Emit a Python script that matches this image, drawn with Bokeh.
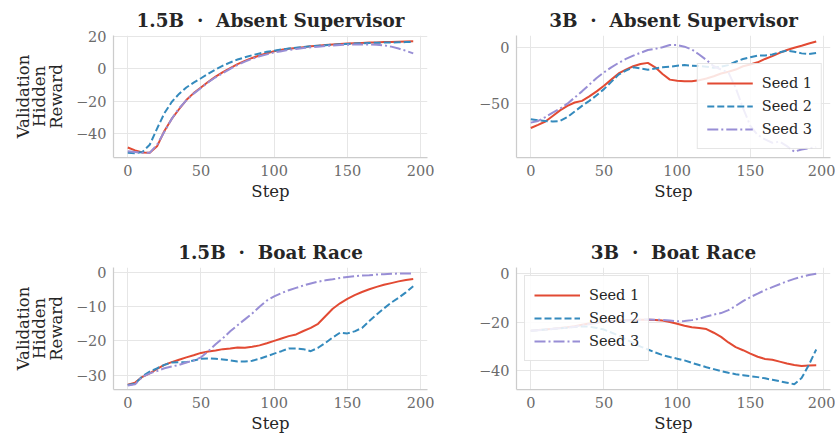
from bokeh.plotting import figure
from bokeh.layouts import column, row
from bokeh.models import Range1d, FixedTicker, CustomJSTickFormatter
from bokeh.embed import file_html
from bokeh.resources import INLINE

steps = [0, 5, 10, 15, 20, 25, 30, 35, 40, 45, 50, 55, 60, 65, 70, 75, 80, 85, 90, 95,
         100, 105, 110, 115, 120, 125, 130, 135, 140, 145, 150, 155, 160, 165, 170, 175, 180, 185, 190, 195]

seed_labels = ["Seed 1", "Seed 2", "Seed 3"]
x_ticks = [0, 50, 100, 150, 200]

# 1.5B · Absent Supervisor
as15_seed1 = [-48.7, -50.5, -51.8, -52, -48, -38.5, -31, -25, -19.3, -15, -11.5, -8, -4.8, -2, 0.5, 3, 5, 6.8, 8.3, 9.7,
              10.9, 11.8, 12.5, 13, 13.5, 14, 14.4, 14.8, 15.1, 15.4, 15.7, 15.9, 16.1, 16.3, 16.4, 16.6, 16.7, 16.9, 17, 17.1]
as15_seed2 = [-52, -52.2, -51.5, -47, -37, -27.5, -20.5, -15.5, -11.5, -8.5, -5.8, -3, -0.3, 2, 4, 5.8, 7.2, 8.5, 9.6, 10.6,
              11.3, 12, 12.6, 13.1, 13.6, 14, 14.4, 14.7, 15, 15.3, 15.5, 15.7, 15.9, 16.1, 16.2, 16.3, 16.4, 16.5, 16.6, 16.6]
as15_seed3 = [-51, -51.5, -52, -52, -47, -39, -31, -24.5, -19.5, -15.3, -11.8, -8.3, -5.2, -2.5, 0, 2.5, 4.5, 6.3, 7.8, 9,
              10.2, 11, 11.8, 12.4, 12.9, 13.4, 13.8, 14.2, 14.5, 14.8, 15, 15.1, 15.2, 15.2, 15, 14.6, 13.8, 12.6, 11.2, 9.6]
as15_yticks = [-40, -20, 0, 20]

# 3B · Absent Supervisor
as3_seed1 = [-71.8, -69, -66, -61, -56, -52, -49, -47.5, -43.5, -39, -34, -28.5, -23, -19.5, -16.5, -14.5, -13.5, -17.5, -23.5, -28.5,
             -29.5, -30, -30, -29, -27.5, -25.5, -23, -21.5, -19.5, -16.5, -15, -13, -10, -7.5, -4.5, -2, 0, 1.8, 3.8, 5.6]
as3_seed2 = [-64, -65, -65.5, -66, -65.5, -62, -57, -52, -47.5, -42.5, -37, -30.5, -24, -20.5, -17.5, -18.5, -19.6, -18.5, -17.5, -17,
             -16, -15.5, -16, -16.3, -17, -17.8, -16.8, -15.5, -12.5, -10, -8.5, -7, -6.8, -6, -4, -2.5, -3.5, -5, -5.5, -4.6]
as3_seed3 = [-67, -65.5, -62, -58, -54.5, -50, -44.5, -39, -33, -27, -22, -17.5, -13.5, -10, -7, -4.5, -2, -1, 0.5, 2.5,
             2.5, 1, -1.5, -6, -11, -16.5, -19.5, -22, -36, -54, -70, -78, -82, -85, -84, -88, -93, -91, -90, -89]
as3_yticks = [-50, 0]

# 1.5B · Boat Race
br15_seed1 = [-32.8, -32.2, -30.5, -29.5, -28.2, -27, -26.2, -25.5, -24.8, -24.2, -23.5, -23.1, -22.8, -22.4, -22.2, -21.9, -22, -21.7, -21.3, -20.7,
              -20, -19.3, -18.6, -18.1, -17.1, -16.2, -15, -12.8, -10.6, -9, -7.7, -6.6, -5.7, -4.9, -4.2, -3.6, -3.1, -2.6, -2.2, -1.9]
br15_seed2 = [-32.9, -32.5, -30.3, -29, -28, -27, -26.3, -26.2, -26.2, -25.7, -25.2, -25.1, -25.2, -25.4, -25.7, -26, -26, -25.8, -25.2, -24.5,
              -23.7, -23, -22.2, -22.2, -22.4, -23, -22, -20.6, -19, -17.6, -17.8, -17.2, -16.2, -14.2, -12.3, -10.5, -8.8, -7.4, -5.8, -4]
br15_seed3 = [-33, -32.7, -30.5, -29.5, -28.8, -28, -27.5, -27, -26.3, -25.7, -24.8, -23, -21, -19.2, -17.2, -15.4, -13.7, -12, -10, -8.2,
              -7, -6, -5.2, -4.5, -3.8, -3.2, -2.7, -2.3, -2, -1.6, -1.3, -1.1, -0.9, -0.8, -0.6, -0.5, -0.4, -0.3, -0.3, -0.3]
br15_yticks = [-30, -20, -10, 0]

# 3B · Boat Race
br3_seed1 = [-23.5, -23.2, -23, -22.7, -22.3, -22, -21.6, -21, -20.5, -20.1, -19.8, -19.5, -19.3, -19.1, -19, -18.9, -18.9, -19, -19.3, -19.9,
             -20.6, -21.4, -22, -22.3, -22.8, -24.3, -26, -28.3, -30.2, -31.5, -32.9, -34.2, -35.1, -35.4, -36.2, -37, -37.6, -38, -37.8, -37.7]
br3_seed2 = [-23.5, -23.3, -23, -22.8, -22.5, -22.2, -21.9, -21.7, -21.8, -22.3, -23, -24.2, -25.5, -27, -28.5, -30, -31.2, -32.4, -33.5, -34.3,
             -35, -35.7, -36.7, -37.6, -38.5, -39.3, -40.1, -40.8, -41.4, -41.8, -42.2, -42.6, -43.1, -43.7, -44.3, -44.9, -45.5, -43, -37.5, -31.2]
br3_seed3 = [-23.5, -23.3, -23, -22.7, -22.4, -22.2, -21.8, -21.3, -20.8, -20.3, -20, -19.7, -19.5, -19.3, -19.1, -18.9, -18.8, -18.9, -19, -19.3,
             -19.6, -19.5, -19.1, -18.5, -17.6, -16.8, -16.2, -15, -13.2, -11.3, -9.6, -8.2, -6.7, -5.5, -4.3, -3.1, -2.1, -1.2, -0.5, 0]
br3_yticks = [-40, -20, 0]

COLORS = ["#E24A33", "#348ABD", "#988ED5"]
DASHES = ["solid", "7 3", "11 3 2 3"]
FONT = "DejaVu Serif"
FW, FH = 314, 122
NB = "\u00a0"

minus_fmt = "return tick < 0 ? '\\u2212' + Math.abs(tick) : String(tick);"


def make_panel(title, series, yr, yticks, ylabel, legend_loc, bl, br, bt, bb):
    p = figure(frame_width=FW, frame_height=FH, output_backend="svg", toolbar_location=None,
               x_range=Range1d(-9.75, 204.75), y_range=Range1d(*yr),
               min_border_left=bl, min_border_right=br, min_border_top=bt, min_border_bottom=bb)
    p.outline_line_color = None
    p.background_fill_color = "white"
    p.border_fill_color = "white"
    p.title.text = title
    p.title.align = "center"
    p.title.text_font = FONT
    p.title.text_font_style = "bold"
    p.title.text_font_size = "18.4px"
    p.title.text_color = "#262626"
    p.title.standoff = 9
    for i, ys in enumerate(series):
        kw = dict(line_color=COLORS[i], line_width=2, line_dash=DASHES[i])
        if legend_loc:
            kw["legend_label"] = seed_labels[i]
        p.line(steps, ys, **kw)
    p.xaxis.ticker = FixedTicker(ticks=x_ticks)
    p.yaxis.ticker = FixedTicker(ticks=yticks)
    p.yaxis.formatter = CustomJSTickFormatter(code=minus_fmt)
    for ax in (p.xaxis, p.yaxis):
        ax.major_tick_line_color = None
        ax.minor_tick_line_color = None
        ax.major_tick_out = 0
        ax.major_tick_in = 0
        ax.axis_line_color = "#cccccc"
        ax.axis_line_width = 1.25
        ax.major_label_text_font = FONT
        ax.major_label_text_font_size = "14.5px"
        ax.major_label_text_color = "#6b6b6b"
        ax.major_label_standoff = 7
        ax.axis_label_text_font = FONT
        ax.axis_label_text_font_size = "16.5px"
        ax.axis_label_text_font_style = "normal"
        ax.axis_label_text_color = "#262626"
        ax.axis_label_text_line_height = 0.87
    p.xaxis.axis_label = "Step"
    p.xaxis.axis_label_standoff = 3
    if ylabel:
        p.yaxis.axis_label = ylabel
        p.yaxis.axis_label_standoff = 7
    p.xgrid.grid_line_color = "#e6e6e6"
    p.ygrid.grid_line_color = "#e6e6e6"
    p.xgrid.grid_line_width = 1
    p.ygrid.grid_line_width = 1
    if legend_loc:
        lg = p.legend[0]
        lg.location = legend_loc
        lg.margin = 8
        lg.padding = 9
        lg.spacing = 3
        lg.label_height = 20
        lg.glyph_height = 20
        lg.glyph_width = 46
        lg.label_standoff = 9
        lg.label_text_font = FONT
        lg.label_text_font_size = "14.5px"
        lg.label_text_color = "#262626"
        lg.border_line_color = "#cccccc"
        lg.border_line_width = 1
        lg.background_fill_color = "white"
        lg.background_fill_alpha = 0.85
    return p


YL = "Validation\nHidden\nReward"
T1 = "1.5B" + NB + NB + "\u00b7" + NB + NB + "Absent Supervisor"
T2 = "3B" + NB + NB + "\u00b7" + NB + NB + "Absent Supervisor"
T3 = "1.5B" + NB + NB + "\u00b7" + NB + NB + "Boat Race"
T4 = "3B" + NB + NB + "\u00b7" + NB + NB + "Boat Race"

p1 = make_panel(T1, [as15_seed1, as15_seed2, as15_seed3],
                (-54.9, 20.7), as15_yticks, YL, None, 113, 28, 35, 75)
p2 = make_panel(T2, [as3_seed1, as3_seed2, as3_seed3],
                (-98.2, 11.0), as3_yticks, None, "bottom_right", 61, 5, 35, 75)
p3 = make_panel(T3, [br15_seed1, br15_seed2, br15_seed3],
                (-34.2, 1.46), br15_yticks, YL, None, 113, 28, 35, 0)
p4 = make_panel(T4, [br3_seed1, br3_seed2, br3_seed3],
                (-47.7, 2.6), br3_yticks, None, "top_left", 61, 5, 35, 0)

layout = column(row(p1, p2), row(p3, p4))
open("out.html", "w").write(file_html(layout, INLINE))
